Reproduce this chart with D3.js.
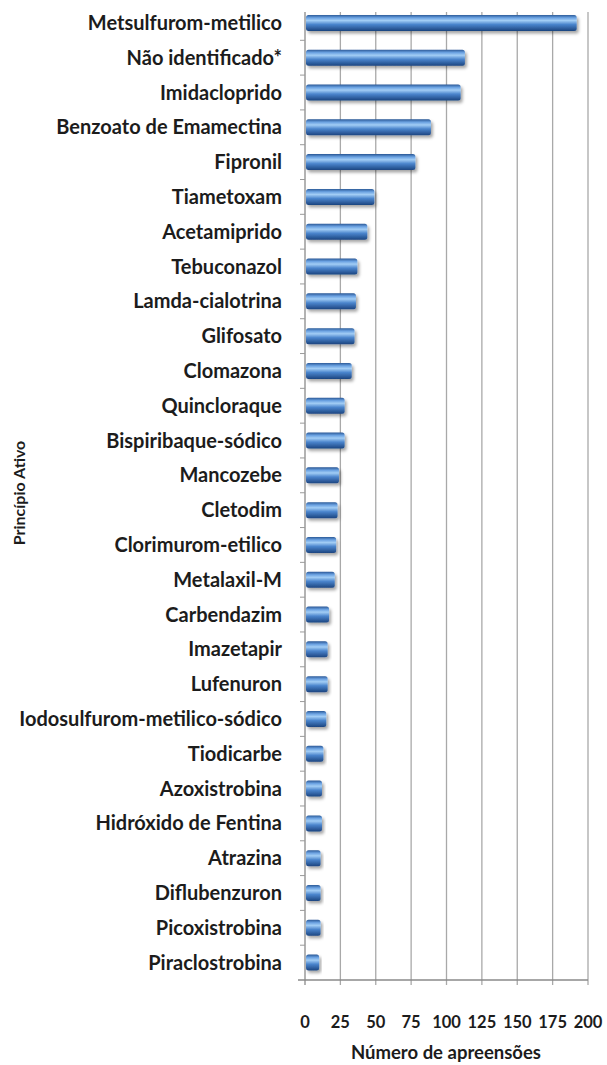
<!DOCTYPE html>
<html>
<head>
<meta charset="utf-8">
<script src="https://d3js.org/d3.v7.min.js"></script>
<style>
  body { margin: 0; background: #ffffff; }
  text { font-family: "Lato", "Open Sans", sans-serif; font-weight: 700; fill: #1c1c1c; }
</style>
</head>
<body>
<div id="my_dataviz"></div>
<script>
// categories, top to bottom
var categories = ["Metsulfurom-metilico", "Não identificado*", "Imidacloprido", "Benzoato de Emamectina",
  "Fipronil", "Tiametoxam", "Acetamiprido", "Tebuconazol", "Lamda-cialotrina", "Glifosato",
  "Clomazona", "Quincloraque", "Bispiribaque-sódico", "Mancozebe", "Cletodim", "Clorimurom-etilico",
  "Metalaxil-M", "Carbendazim", "Imazetapir", "Lufenuron", "Iodosulfurom-metilico-sódico",
  "Tiodicarbe", "Azoxistrobina", "Hidróxido de Fentina", "Atrazina", "Diflubenzuron",
  "Picoxistrobina", "Piraclostrobina"];

// number of seizures per active ingredient
var values = [192, 113, 110, 89, 78, 49, 44, 37, 36, 35, 33, 28, 28, 24, 23, 22, 21, 17, 16, 16, 15,
  13, 12, 12, 11, 11, 11, 10];

var xTicks = [0, 25, 50, 75, 100, 125, 150, 175, 200];
var xTitle = "Número de apreensões";
var yTitle = "Princípio Ativo";

var width = 607, height = 1065;

var svg = d3.select("#my_dataviz")
  .append("svg")
    .attr("width", width)
    .attr("height", height);

var defs = svg.append("defs");

// cylinder look for the bars
var grad = defs.append("linearGradient")
    .attr("id", "barGrad")
    .attr("x1", 0).attr("y1", 0).attr("x2", 0).attr("y2", 1);
grad.append("stop").attr("offset", "0%").attr("stop-color", "#2a5896");
grad.append("stop").attr("offset", "18%").attr("stop-color", "#6ba2e2");
grad.append("stop").attr("offset", "35%").attr("stop-color", "#a2cdf5");
grad.append("stop").attr("offset", "60%").attr("stop-color", "#4a84cc");
grad.append("stop").attr("offset", "100%").attr("stop-color", "#1c4580");

var shadow = defs.append("filter")
    .attr("id", "shadow")
    .attr("x", "-10%").attr("y", "-40%").attr("width", "130%").attr("height", "200%");
shadow.append("feDropShadow")
    .attr("dx", 2).attr("dy", 2.5)
    .attr("stdDeviation", 1.8)
    .attr("flood-color", "#000")
    .attr("flood-opacity", 0.35);

// scales
var x = d3.scaleLinear()
    .domain([0, 200])
    .range([305, 588]);

var y = d3.scaleBand()
    .domain(categories)
    .range([5.5, 980]);

var plotTop = 12, plotBottom = 980;

// vertical gridlines
svg.append("g")
  .selectAll("line")
  .data(xTicks.slice(1))
  .enter()
  .append("line")
    .attr("x1", function(d) { return x(d); })
    .attr("x2", function(d) { return x(d); })
    .attr("y1", plotTop)
    .attr("y2", plotBottom + 5)
    .style("stroke", "#a9a9a9")
    .style("stroke-width", 1.3);

// x axis line
svg.append("line")
    .attr("x1", 298).attr("x2", x(200))
    .attr("y1", plotBottom).attr("y2", plotBottom)
    .style("stroke", "#8a8a8a")
    .style("stroke-width", 1.3);

// y axis line
svg.append("line")
    .attr("x1", x(0)).attr("x2", x(0))
    .attr("y1", plotTop).attr("y2", plotBottom + 5)
    .style("stroke", "#8a8a8a")
    .style("stroke-width", 1.3);

// small tick marks between categories
svg.append("g")
  .selectAll("line")
  .data(categories.slice(1))
  .enter()
  .append("line")
    .attr("x1", x(0) - 5).attr("x2", x(0))
    .attr("y1", function(d) { return y(d); })
    .attr("y2", function(d) { return y(d); })
    .style("stroke", "#9a9a9a")
    .style("stroke-width", 1);

// bars
var barH = 16;
svg.append("g")
  .selectAll("rect")
  .data(values)
  .enter()
  .append("rect")
    .attr("x", x(0) + 1)
    .attr("y", function(d, i) { return y(categories[i]) + y.bandwidth() / 2 - barH / 2; })
    .attr("width", function(d) { return x(d) - x(0) - 1; })
    .attr("height", barH)
    .attr("rx", 2.5)
    .style("fill", "url(#barGrad)")
    .style("filter", "url(#shadow)");

// category labels
svg.append("g")
  .selectAll("text")
  .data(categories)
  .enter()
  .append("text")
    .attr("x", 282)
    .attr("y", function(d) { return y(d) + y.bandwidth() / 2; })
    .attr("dy", ".35em")
    .style("text-anchor", "end")
    .style("font-size", "20px")
    .text(function(d) { return d; });

// x tick labels
svg.append("g")
  .selectAll("text")
  .data(xTicks)
  .enter()
  .append("text")
    .attr("x", function(d) { return x(d); })
    .attr("y", 1022)
    .attr("dy", ".35em")
    .style("text-anchor", "middle")
    .style("font-size", "16.5px")
    .text(function(d) { return d; });

// axis titles
svg.append("text")
    .attr("x", 446)
    .attr("y", 1053)
    .attr("dy", ".35em")
    .style("text-anchor", "middle")
    .style("font-size", "18.5px")
    .text(xTitle);

svg.append("text")
    .attr("transform", "translate(19,493) rotate(-90)")
    .attr("dy", ".35em")
    .style("text-anchor", "middle")
    .style("font-size", "16px")
    .text(yTitle);
</script>
</body>
</html>
